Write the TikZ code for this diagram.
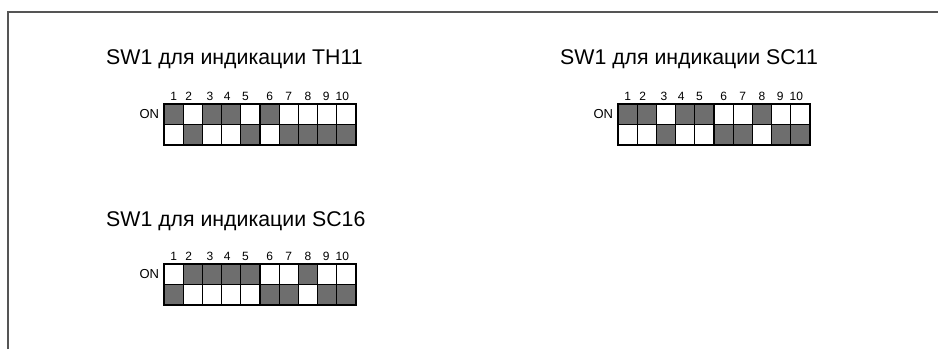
\documentclass[tikz,border=0pt]{standalone}
\usepackage{fontspec}
\setmainfont{Liberation Sans}
\usepackage{tikz}

\definecolor{swgray}{RGB}{110,110,110}
\definecolor{framegray}{RGB}{85,85,85}

\tikzset{
  title/.style={font=\fontsize{21.3}{24}\selectfont, inner sep=0pt, anchor=base west},
  num/.style={font=\fontsize{12}{14}\selectfont, inner sep=0pt, anchor=base},
  onlabel/.style={font=\fontsize{13}{15}\selectfont, inner sep=0pt, anchor=east},
  swline/.style={line width=1.2pt}
}

\begin{document}
\begin{tikzpicture}[x=1pt, y=-1pt]
  \useasboundingbox (0,0) rectangle (938,349);
  \draw[framegray, line width=1.5pt] (8,349) -- (8,12) -- (938,12);

  % TH11
  \node[title] (th-title) at (106,64) {SW1 для индикации TH11};
  \begin{scope}[shift={(164,104)}, x=19.2pt, y=-20.5pt]
    \foreach \b [count=\i] in {1,0,1,1,0,1,0,0,0,0} {
      \pgfmathtruncatemacro\r{1-\b}
      \fill[swgray] (\i-1,\r) rectangle (\i,\r+1);
    }
    \foreach \i/\dx in {1/0,2/-4,3/-2,4/-4,5/-5,6/0,7/0,8/0,9/-1,10/-4}
      \node[num] (th-n\i) at (\i-0.5+\dx/19.2,-0.15) {\i};
    \foreach \i in {1,...,9}
      \draw[swline] (\i,0) -- (\i,2);
    \draw[swline] (0,1) -- (10,1);
    \draw[swline] (0,0) rectangle (10,2);
    \node[onlabel] (th-on) at (-0.25,0.5) {ON};
  \end{scope}

  % SC11
  \node[title] (sc11-title) at (560,64) {SW1 для индикации SC11};
  \begin{scope}[shift={(618,104)}, x=19.2pt, y=-20.5pt]
    \foreach \b [count=\i] in {1,1,0,1,1,0,0,1,0,0} {
      \pgfmathtruncatemacro\r{1-\b}
      \fill[swgray] (\i-1,\r) rectangle (\i,\r+1);
    }
    \foreach \i/\dx in {1/0,2/-4,3/-2,4/-4,5/-5,6/0,7/0,8/0,9/-1,10/-4}
      \node[num] (sc11-n\i) at (\i-0.5+\dx/19.2,-0.15) {\i};
    \foreach \i in {1,...,9}
      \draw[swline] (\i,0) -- (\i,2);
    \draw[swline] (0,1) -- (10,1);
    \draw[swline] (0,0) rectangle (10,2);
    \node[onlabel] (sc11-on) at (-0.25,0.5) {ON};
  \end{scope}

  % SC16
  \node[title] (sc16-title) at (106,226) {SW1 для индикации SC16};
  \begin{scope}[shift={(164,264)}, x=19.2pt, y=-20.5pt]
    \foreach \b [count=\i] in {0,1,1,1,1,0,0,1,0,0} {
      \pgfmathtruncatemacro\r{1-\b}
      \fill[swgray] (\i-1,\r) rectangle (\i,\r+1);
    }
    \foreach \i/\dx in {1/0,2/-4,3/-2,4/-4,5/-5,6/0,7/0,8/0,9/-1,10/-4}
      \node[num] (sc16-n\i) at (\i-0.5+\dx/19.2,-0.15) {\i};
    \foreach \i in {1,...,9}
      \draw[swline] (\i,0) -- (\i,2);
    \draw[swline] (0,1) -- (10,1);
    \draw[swline] (0,0) rectangle (10,2);
    \node[onlabel] (sc16-on) at (-0.25,0.5) {ON};
  \end{scope}
\end{tikzpicture}
\end{document}
